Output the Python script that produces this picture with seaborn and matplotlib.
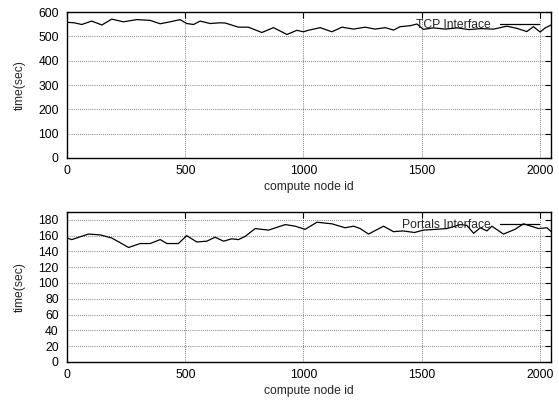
import matplotlib
matplotlib.use("Agg")
from matplotlib import pyplot as plt
import seaborn as sns
import pandas as pd

# 001 : data
tcp_node = [0, 30, 62, 104, 147, 189, 238, 295, 351, 394, 436, 478, 506, 535, 563, 605,
            647, 669, 725, 767, 824, 873, 930, 972, 1000, 1020, 1071, 1120, 1163, 1212,
            1261, 1303, 1346, 1381, 1409, 1452, 1480, 1507, 1550, 1600, 1650, 1700, 1750,
            1804, 1861, 1903, 1945, 1973, 2001, 2023, 2048]
tcp_time = [558, 556, 549, 563, 547, 571, 560, 569, 566, 552, 560, 569, 553, 549, 563, 553,
            556, 555, 538, 538, 516, 536, 508, 525, 519, 525, 536, 519, 538, 530,
            538, 530, 536, 526, 540, 544, 551, 529, 535, 530, 535, 528, 532,
            530, 542, 533, 520, 540, 518, 535, 547]

portals_node = [0, 20, 40, 90, 140, 189, 231, 260, 309, 351, 394, 422, 471, 506, 549, 591,
                626, 662, 697, 725, 753, 796, 852, 923, 965, 1007, 1057, 1120, 1176, 1212,
                1240, 1275, 1339, 1381, 1420, 1470, 1507, 1560, 1607, 1663, 1691, 1720, 1748,
                1776, 1797, 1846, 1895, 1931, 1973, 1995, 2030, 2048]
portals_time = [157, 155, 157, 162, 161, 157, 150, 145, 150, 150, 155, 150, 150, 160, 152, 153,
                158, 153, 156, 155, 159, 169, 167, 174, 172, 168, 177, 175, 170, 172,
                169, 162, 172, 165, 166, 164, 167, 168, 169, 174, 173, 163, 170,
                166, 172, 162, 168, 175, 171, 169, 170, 165]

tcp = pd.DataFrame({'node': tcp_node, 'time': tcp_time})
portals = pd.DataFrame({'node': portals_node, 'time': portals_time})

# Setup
sns.set_style('white')
plt.rcParams['font.family'] = ['Liberation Sans', 'DejaVu Sans']
FS = 8.7

fig = plt.figure(figsize=(5.59, 4.03), dpi=100)
ax1 = fig.add_axes([0.12, 0.608, 0.866, 0.362])
ax2 = fig.add_axes([0.12, 0.102, 0.866, 0.372])


def style_axis(ax, ymax, ystep, grid_cut=None):
    ax.set_xlim(0, 2048)
    ax.set_ylim(0, ymax)
    ax.set_xticks(range(0, 2001, 500))
    ax.set_yticks(range(0, ymax + 1 if ymax % ystep == 0 else ymax, ystep))
    ax.tick_params(direction='in', top=True, right=True, length=4, width=0.8,
                   labelsize=FS, colors='black')
    ax.tick_params(axis='y', pad=6)
    ax.tick_params(axis='x', pad=5)
    for sp in ax.spines.values():
        sp.set_color('black')
        sp.set_linewidth(1.0)
    ax.set_xlabel('compute node id', fontsize=FS, labelpad=3)
    ax.set_ylabel('time(sec)', fontsize=FS, labelpad=9)
    gkw = dict(color='#555555', linestyle=(0, (1, 1.5)), linewidth=0.6, zorder=0)
    for xv in range(500, 2001, 500):
        ax.axvline(xv, **gkw)
    for yv in range(ystep, ymax, ystep):
        if grid_cut is not None and yv == grid_cut[0]:
            ax.axhline(yv, xmax=grid_cut[1], **gkw)
        else:
            ax.axhline(yv, **gkw)


# 002 : TCP
sns.lineplot(x='node', y='time', data=tcp, ax=ax1, color='black', linewidth=0.9,
             label='TCP Interface')
style_axis(ax1, 600, 100)

# 003 : Portals
sns.lineplot(x='node', y='time', data=portals, ax=ax2, color='black', linewidth=0.9,
             label='Portals Interface')
style_axis(ax2, 190, 20, grid_cut=(180, 0.61))

for ax in (ax1, ax2):
    ax.legend(loc='upper right', frameon=False, markerfirst=False, fontsize=FS,
              handlelength=3.2, handletextpad=0.8, borderaxespad=0.2,
              bbox_to_anchor=(0.99, 1.0))

fig.savefig('out.png', dpi=100)
